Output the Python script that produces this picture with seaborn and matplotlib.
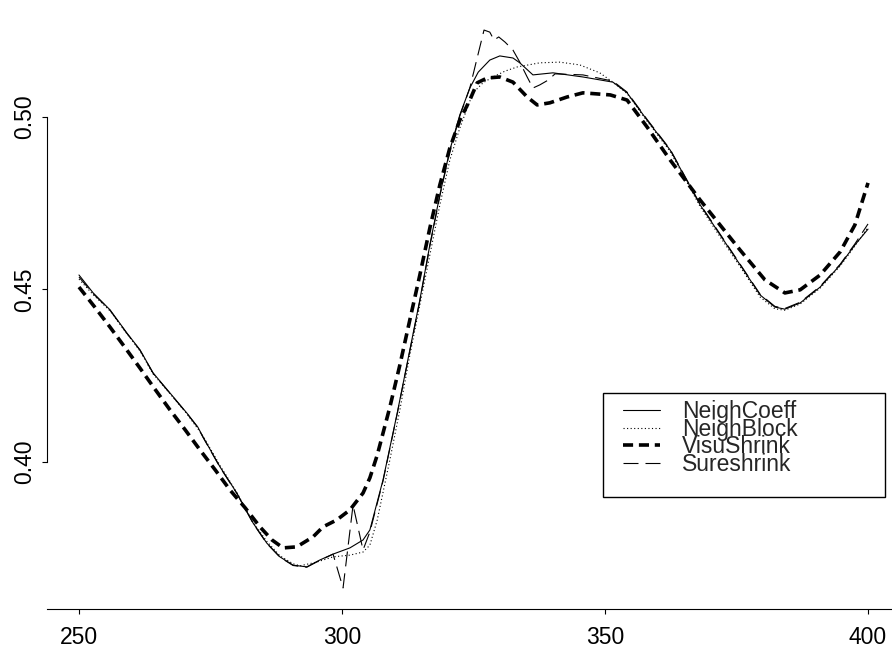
import numpy as np
import pandas as pd
import matplotlib
matplotlib.use("Agg")
import matplotlib.pyplot as plt
from matplotlib.patches import Rectangle
import seaborn as sns

# ---------------- data ----------------
coeff_x = [250.0, 252.7, 255.9, 259.1, 261.6, 264.1, 267.3, 270.5, 272.6, 273.6,
           276.8, 280.0, 283.1, 285.7, 288.2, 290.7, 293.3, 295.8, 298.3, 301.5,
           304.0, 305.3, 307.8, 310.5, 312.9, 314.8, 316.7, 318.6, 320.5, 322.4,
           324.3, 325.9, 328.1, 330.0, 332.5, 333.8, 336.3, 340.1, 345.8, 351.5,
           354.2, 358.0, 362.4, 368.1, 371.9, 375.7, 379.5, 382.3, 384.2, 387.1,
           390.9, 394.7, 397.5, 400.0]
coeff_y = [0.4542, 0.4490, 0.4441, 0.4374, 0.4325, 0.4258, 0.4200, 0.4142, 0.4101, 0.4072,
           0.3986, 0.3910, 0.3823, 0.3765, 0.3725, 0.3701, 0.3696, 0.3716, 0.3733, 0.3751,
           0.3774, 0.3803, 0.3948, 0.4142, 0.4325, 0.4470, 0.4629, 0.4774, 0.4904, 0.5006,
           0.5084, 0.5130, 0.5165, 0.5177, 0.5171, 0.5157, 0.5122, 0.5128, 0.5116, 0.5101,
           0.5070, 0.4991, 0.4904, 0.4745, 0.4658, 0.4571, 0.4484, 0.4449, 0.4443, 0.4461,
           0.4507, 0.4571, 0.4629, 0.4675]

block_x = [250.0, 252.7, 255.9, 259.1, 261.6, 264.1, 267.3, 270.5, 273.6, 276.8,
           280.0, 283.1, 285.7, 288.2, 290.7, 292.0, 295.2, 298.3, 301.5, 304.0,
           305.3, 306.7, 309.1, 311.0, 312.9, 314.8, 316.7, 318.6, 320.5, 322.4,
           324.9, 326.8, 328.7, 331.0, 333.3, 337.6, 341.4, 345.2, 349.0, 351.5,
           354.2, 358.0, 362.4, 368.1, 371.9, 375.7, 379.5, 382.3, 384.2, 387.1,
           390.9, 394.7, 397.5, 400.0]
block_y = [0.4530, 0.4485, 0.4438, 0.4372, 0.4322, 0.4255, 0.4198, 0.4140, 0.4075, 0.3990,
           0.3912, 0.3825, 0.3770, 0.3728, 0.3705, 0.3699, 0.3710, 0.3725, 0.3730, 0.3739,
           0.3759, 0.3832, 0.4006, 0.4151, 0.4310, 0.4455, 0.4600, 0.4745, 0.4875, 0.4968,
           0.5070, 0.5099, 0.5116, 0.5133, 0.5145, 0.5157, 0.5159, 0.5151, 0.5128, 0.5101,
           0.5068, 0.4988, 0.4900, 0.4740, 0.4652, 0.4566, 0.4478, 0.4444, 0.4440, 0.4458,
           0.4504, 0.4568, 0.4626, 0.4680]

visu_x = [250.0, 253.0, 255.9, 258.7, 261.6, 264.4, 267.3, 270.2, 273.0, 275.9,
          278.7, 281.6, 284.4, 286.7, 288.8, 291.4, 294.5, 296.4, 299.0,
          301.5, 304.0, 305.3, 306.7, 309.1, 311.0, 312.9, 314.8, 316.7, 318.6,
          320.5, 322.4, 324.3, 325.7, 327.6, 330.0, 332.5, 335.2, 337.1, 339.5,
          342.8, 345.8, 351.0, 354.2, 358.0, 362.4, 368.1, 375.7, 380.4, 384.2,
          387.1, 390.9, 394.7, 397.5, 400.0]
visu_y = [0.4507, 0.4449, 0.4391, 0.4333, 0.4272, 0.4212, 0.4151, 0.4093, 0.4035, 0.3977,
          0.3919, 0.3867, 0.3812, 0.3774, 0.3751, 0.3754, 0.3783, 0.3812, 0.3832,
          0.3861, 0.3910, 0.3954, 0.4020, 0.4159, 0.4281, 0.4412, 0.4542, 0.4678, 0.4803,
          0.4910, 0.4991, 0.5049, 0.5099, 0.5113, 0.5116, 0.5101, 0.5058, 0.5035, 0.5041,
          0.5058, 0.5070, 0.5064, 0.5049, 0.4971, 0.4875, 0.4759, 0.4614, 0.4528, 0.4490,
          0.4499, 0.4542, 0.4609, 0.4687, 0.4809]

sure_x = [250.0, 252.7, 255.9, 259.1, 261.6, 264.1, 267.3, 270.5, 272.6, 273.6,
          276.8, 280.0, 283.1, 285.7, 288.2, 290.7, 293.3, 295.8, 298.3, 300.2,
          302.1, 304.0, 305.3, 307.8, 310.5, 312.9, 314.8, 316.7, 318.6, 320.5,
          322.4, 324.3, 325.5, 327.0, 328.1, 328.9, 329.8, 331.0, 332.5, 333.8,
          335.2, 336.3, 337.6, 339.2, 340.5, 345.8, 351.5, 354.2, 358.0, 362.4,
          368.1, 371.9, 375.7, 379.5, 382.3, 384.2, 387.1, 390.9, 394.7, 397.5,
          400.0]
sure_y = [0.4536, 0.4488, 0.4440, 0.4373, 0.4324, 0.4257, 0.4199, 0.4141, 0.4100, 0.4071,
          0.3985, 0.3909, 0.3822, 0.3764, 0.3724, 0.3700, 0.3695, 0.3715, 0.3733, 0.3635,
          0.3875, 0.3745, 0.3797, 0.3945, 0.4140, 0.4322, 0.4467, 0.4626, 0.4771, 0.4901,
          0.5003, 0.5084, 0.5159, 0.5252, 0.5246, 0.5223, 0.5232, 0.5217, 0.5194, 0.5159,
          0.5116, 0.5084, 0.5093, 0.5107, 0.5125, 0.5122, 0.5104, 0.5072, 0.4993, 0.4906,
          0.4747, 0.4660, 0.4573, 0.4486, 0.4451, 0.4445, 0.4463, 0.4509, 0.4573, 0.4632,
          0.4690]

labels = ["NeighCoeff", "NeighBlock", "VisuShrink", "Sureshrink"]
x_ticks = [250, 300, 350, 400]
y_ticks = [0.40, 0.45, 0.50]
y_ticklabels = ["0.40", "0.45", "0.50"]

# ---------------- style ----------------
sns.set_theme(style="ticks")
plt.rcParams["font.family"] = ["Liberation Sans", "DejaVu Sans"]
FS = 16.5

fig = plt.figure(figsize=(8.92, 6.52), dpi=100)
ax = fig.add_axes([47 / 892, 43 / 652, 845 / 892, 609 / 652])

series = [
    (coeff_x, coeff_y, dict(linewidth=0.8, linestyle="-")),
    (block_x, block_y, dict(linewidth=0.8, linestyle=(0, (1.0, 2.2)))),
    (visu_x, visu_y, dict(linewidth=2.6, linestyle=(0, (2.8, 1.6)))),
    (sure_x, sure_y, dict(linewidth=0.8, linestyle=(0, (13.5, 6.3)))),
]
handles = []
for (xs, ys, kw), lab in zip(series, labels):
    df = pd.DataFrame({"x": xs, "y": ys})
    sns.lineplot(data=df, x="x", y="y", ax=ax, color="black", estimator=None,
                 sort=False, legend=False, **kw)
    handles.append(ax.lines[-1])

ax.set_xlim(243.92, 404.56)
ax.set_ylim(0.35739, 0.53391)
ax.set_xlabel("")
ax.set_ylabel("")

ax.set_xticks(x_ticks)
ax.set_xticklabels([str(t) for t in x_ticks], fontsize=FS)
ax.set_yticks(y_ticks)
ax.set_yticklabels(y_ticklabels, fontsize=FS, rotation=90, va="center")

for side in ["top", "right"]:
    ax.spines[side].set_visible(False)
ax.spines["left"].set_bounds(0.40, 0.50)
for side in ["left", "bottom"]:
    ax.spines[side].set_linewidth(0.8)
    ax.spines[side].set_color("black")
ax.tick_params(axis="both", direction="out", length=3.6, width=0.8, color="black",
               labelcolor="black")
ax.tick_params(axis="x", pad=9)
ax.tick_params(axis="y", pad=4)

# legend
leg = ax.legend(handles, labels, loc="upper left",
                bbox_to_anchor=(0.6817, 0.3432), bbox_transform=ax.transAxes,
                frameon=False, fontsize=FS, handlelength=1.6, handletextpad=0.96,
                labelspacing=-0.235, borderpad=0, borderaxespad=0)
ax.add_patch(Rectangle((0.658, 0.1839), 0.9917 - 0.658, 0.3547 - 0.1839,
                       transform=ax.transAxes, fill=False, edgecolor="black",
                       linewidth=1.0, zorder=5))

fig.savefig("out.png", dpi=100)
